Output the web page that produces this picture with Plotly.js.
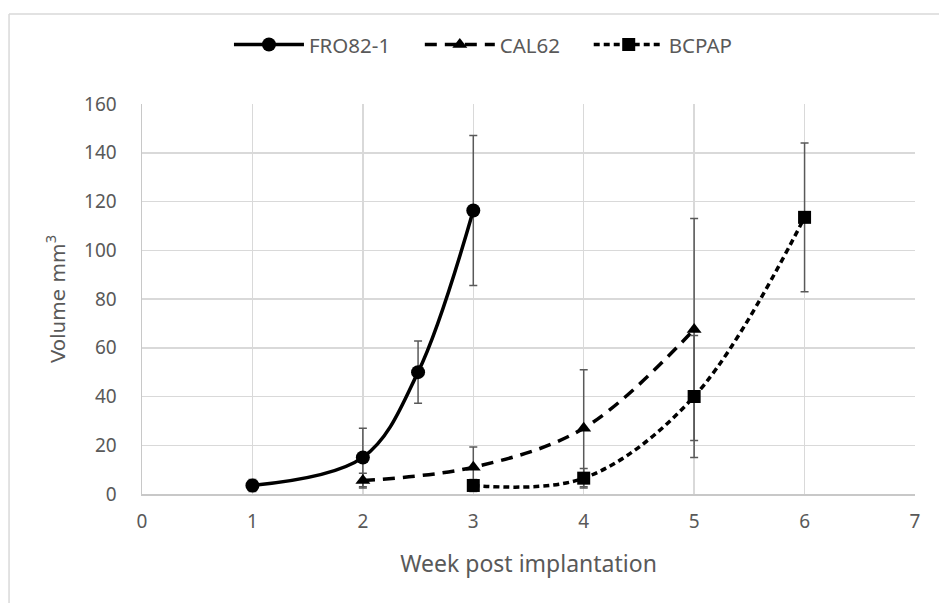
<!DOCTYPE html>
<html>
<head>
<meta charset="utf-8">
<script src="https://cdn.plot.ly/plotly-3.0.1.min.js"></script>
<style>html,body{margin:0;padding:0;background:#fff;}#chart{width:939px;height:603px;}</style>
</head>
<body>
<div id="chart"></div>
<script>
// Data
const seriesNames = ["FRO82-1", "CAL62", "BCPAP"];
const froWeeks = [1, 2, 2.5, 3];
const froVolume = [3.5, 15, 50, 116.3];
const froError = [2.5, 12, 12.8, 30.8];
const calWeeks = [2, 3, 4, 5];
const calVolume = [5.5, 11, 27, 67.5];
const calError = [3, 8.3, 24, 45.5];
const bcpapWeeks = [3, 4, 5, 6];
const bcpapVolume = [3.5, 6.5, 40, 113.5];
const bcpapError = [2.5, 4, 25, 30.5];
const xTicks = [0, 1, 2, 3, 4, 5, 6, 7];
const yTicks = [0, 20, 40, 60, 80, 100, 120, 140, 160];

const tickFont = {family: "Noto Sans, Open Sans, sans-serif", size: 19, color: "#595959"};
const legFont = {family: "Noto Sans, Open Sans, sans-serif", size: 20.5, color: "#595959"};
const errStyle = {type: "data", visible: true, color: "#595959", thickness: 1.5, width: 4};

function mkTrace(name, x, y, err, symbol, size, dash, leg) {
  return {
    type: "scatter", mode: "lines+markers", name: name, x: x, y: y, legend: leg,
    line: {color: "#000", width: 3.5, shape: "spline", smoothing: 1, dash: dash},
    marker: {color: "#000", symbol: symbol, size: size},
    error_y: Object.assign({array: err}, errStyle),
    hoverinfo: "skip"
  };
}

const traces = [
  mkTrace(seriesNames[0], froWeeks, froVolume, froError, "circle", 14, "solid", "legend"),
  mkTrace(seriesNames[1], calWeeks, calVolume, calError, "triangle-up", 13, "12px,8px", "legend2"),
  mkTrace(seriesNames[2], bcpapWeeks, bcpapVolume, bcpapError, "square", 13, "6px,4px", "legend3")
];

function mkLegend(x) {
  return {orientation: "h", x: x, xanchor: "left", y: 1.152, yanchor: "middle",
          font: legFont, itemwidth: 70, bgcolor: "rgba(0,0,0,0)"};
}

const layout = {
  width: 939, height: 603,
  margin: {l: 142, r: 23.5, t: 104, b: 109},
  paper_bgcolor: "#fff", plot_bgcolor: "#fff",
  showlegend: true,
  legend: mkLegend(0.1125),
  legend2: mkLegend(0.3594),
  legend3: mkLegend(0.5779),
  xaxis: {
    range: [0, 7], tickvals: xTicks, ticktext: xTicks.map(String),
    showgrid: true, gridcolor: "#d9d9d9", gridwidth: 1.5,
    showline: true, linecolor: "#c8c8c8", linewidth: 1.5, zeroline: false,
    ticks: "", tickfont: tickFont, ticklabelstandoff: 10,
    title: {text: "Week post implantation", font: {family: "Noto Sans, Open Sans, sans-serif", size: 23, color: "#595959"}, standoff: 22}
  },
  yaxis: {
    range: [0, 160], tickvals: yTicks, ticktext: yTicks.map(String),
    showgrid: true, gridcolor: "#d9d9d9", gridwidth: 1.5,
    showline: true, linecolor: "#c8c8c8", linewidth: 1.5, zeroline: false,
    ticks: "", tickfont: tickFont, ticklabelstandoff: 20,
    title: {text: "Volume mm<sup>3</sup>", font: {family: "DejaVu Sans, sans-serif", size: 20, color: "#595959"}, standoff: 13}
  },
  shapes: [
    {type: "line", xref: "paper", yref: "paper", x0: -0.172, x1: 1.1, y0: 1.2308, y1: 1.2308, line: {color: "#d9d9d9", width: 1.5}},
    {type: "line", xref: "paper", yref: "paper", x0: -0.172, x1: -0.172, y0: 1.2308, y1: -0.4, line: {color: "#d9d9d9", width: 1.5}}
  ]
};

Plotly.newPlot("chart", traces, layout, {displayModeBar: false, staticPlot: true});
</script>
</body>
</html>
